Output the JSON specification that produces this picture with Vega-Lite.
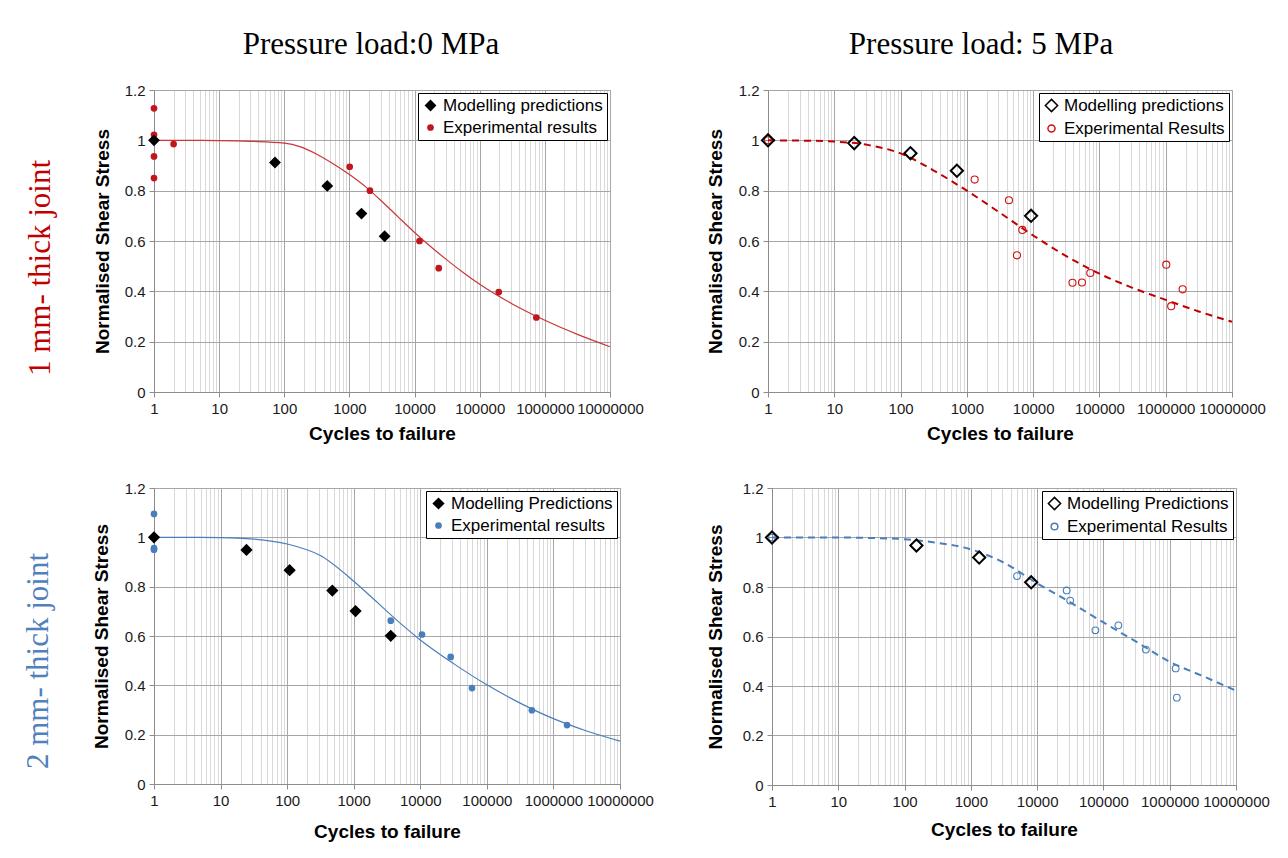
{
  "$schema": "https://vega.github.io/schema/vega-lite/v6.json",
  "background": "white",
  "padding": {"left": 22, "top": 28, "right": 4, "bottom": 4},
  "config": {
    "font": "Liberation Sans",
    "view": {"stroke": "#a6a6a6"},
    "axis": {
      "labelFont": "Liberation Sans", "labelFontSize": 15, "labelColor": "#1a1a1a",
      "titleFont": "Liberation Sans", "titleFontSize": 19, "titleFontWeight": "bold", "titleColor": "#000000",
      "domainColor": "#8c8c8c", "tickColor": "#8c8c8c", "gridColor": "#a6a6a6", "tickSize": 5, "labelPadding": 4
    },
    "legend": {
      "orient": "top-right", "offset": 3, "padding": 4, "fillColor": "white", "strokeColor": "#000000",
      "labelFont": "Liberation Sans", "labelFontSize": 17, "labelColor": "#000000", "rowPadding": 4, "labelLimit": 300
    },
    "title": {"font": "Liberation Serif", "fontSize": 31, "fontWeight": "normal", "color": "#000000"}
  },
  "datasets": {
    "curve1": [
      {"cycles": 1, "stress": 1.0}, {"cycles": 10, "stress": 0.999}, {"cycles": 31.6, "stress": 0.996},
      {"cycles": 100, "stress": 0.989}, {"cycles": 178, "stress": 0.974}, {"cycles": 316, "stress": 0.945},
      {"cycles": 562, "stress": 0.907}, {"cycles": 1000, "stress": 0.864}, {"cycles": 1778, "stress": 0.815},
      {"cycles": 3162, "stress": 0.757}, {"cycles": 5623, "stress": 0.695}, {"cycles": 10000, "stress": 0.634},
      {"cycles": 17783, "stress": 0.577}, {"cycles": 31623, "stress": 0.524}, {"cycles": 56234, "stress": 0.474},
      {"cycles": 100000, "stress": 0.428}, {"cycles": 316228, "stress": 0.35}, {"cycles": 1000000, "stress": 0.285},
      {"cycles": 3162278, "stress": 0.229}, {"cycles": 10000000, "stress": 0.18}
    ],
    "pts1": [
      {"cycles": 1, "stress": 1.127, "series": "Experimental results"},
      {"cycles": 1, "stress": 1.022, "series": "Experimental results"},
      {"cycles": 1, "stress": 0.936, "series": "Experimental results"},
      {"cycles": 1, "stress": 0.85, "series": "Experimental results"},
      {"cycles": 2, "stress": 0.985, "series": "Experimental results"},
      {"cycles": 1010, "stress": 0.895, "series": "Experimental results"},
      {"cycles": 2065, "stress": 0.8, "series": "Experimental results"},
      {"cycles": 11900, "stress": 0.6, "series": "Experimental results"},
      {"cycles": 23500, "stress": 0.492, "series": "Experimental results"},
      {"cycles": 196000, "stress": 0.397, "series": "Experimental results"},
      {"cycles": 740000, "stress": 0.296, "series": "Experimental results"},
      {"cycles": 1, "stress": 1.0, "series": "Modelling predictions"},
      {"cycles": 72, "stress": 0.912, "series": "Modelling predictions"},
      {"cycles": 457, "stress": 0.819, "series": "Modelling predictions"},
      {"cycles": 1530, "stress": 0.709, "series": "Modelling predictions"},
      {"cycles": 3470, "stress": 0.619, "series": "Modelling predictions"}
    ],
    "curve2": [
      {"cycles": 1, "stress": 1.0}, {"cycles": 3.16, "stress": 0.999}, {"cycles": 10, "stress": 0.995},
      {"cycles": 31.6, "stress": 0.982}, {"cycles": 100, "stress": 0.948}, {"cycles": 316, "stress": 0.88},
      {"cycles": 1000, "stress": 0.8}, {"cycles": 3162, "stress": 0.712}, {"cycles": 10000, "stress": 0.622},
      {"cycles": 31623, "stress": 0.54}, {"cycles": 100000, "stress": 0.47}, {"cycles": 316228, "stress": 0.414},
      {"cycles": 1000000, "stress": 0.366}, {"cycles": 3162278, "stress": 0.32}, {"cycles": 10000000, "stress": 0.279}
    ],
    "pts2": [
      {"cycles": 1, "stress": 1.0, "series": "Experimental Results"},
      {"cycles": 1310, "stress": 0.844, "series": "Experimental Results"},
      {"cycles": 4320, "stress": 0.762, "series": "Experimental Results"},
      {"cycles": 6860, "stress": 0.644, "series": "Experimental Results"},
      {"cycles": 5700, "stress": 0.543, "series": "Experimental Results"},
      {"cycles": 39200, "stress": 0.434, "series": "Experimental Results"},
      {"cycles": 54500, "stress": 0.435, "series": "Experimental Results"},
      {"cycles": 72800, "stress": 0.473, "series": "Experimental Results"},
      {"cycles": 1020000, "stress": 0.506, "series": "Experimental Results"},
      {"cycles": 1210000, "stress": 0.341, "series": "Experimental Results"},
      {"cycles": 1800000, "stress": 0.408, "series": "Experimental Results"},
      {"cycles": 1, "stress": 1.0, "series": "Modelling predictions"},
      {"cycles": 20, "stress": 0.989, "series": "Modelling predictions"},
      {"cycles": 141, "stress": 0.949, "series": "Modelling predictions"},
      {"cycles": 707, "stress": 0.879, "series": "Modelling predictions"},
      {"cycles": 9300, "stress": 0.7, "series": "Modelling predictions"}
    ],
    "curve3": [
      {"cycles": 1, "stress": 1.0}, {"cycles": 10, "stress": 0.999}, {"cycles": 31.6, "stress": 0.993},
      {"cycles": 100, "stress": 0.973}, {"cycles": 316, "stress": 0.926}, {"cycles": 1000, "stress": 0.822},
      {"cycles": 1778, "stress": 0.762}, {"cycles": 3162, "stress": 0.7}, {"cycles": 5623, "stress": 0.64},
      {"cycles": 10000, "stress": 0.584}, {"cycles": 31623, "stress": 0.488}, {"cycles": 100000, "stress": 0.402},
      {"cycles": 316228, "stress": 0.328}, {"cycles": 1000000, "stress": 0.265}, {"cycles": 3162278, "stress": 0.215},
      {"cycles": 10000000, "stress": 0.174}
    ],
    "pts3": [
      {"cycles": 1, "stress": 1.095, "series": "Experimental results"},
      {"cycles": 1, "stress": 0.956, "series": "Experimental results"},
      {"cycles": 1, "stress": 0.95, "series": "Experimental results"},
      {"cycles": 3600, "stress": 0.662, "series": "Experimental results"},
      {"cycles": 10600, "stress": 0.606, "series": "Experimental results"},
      {"cycles": 28600, "stress": 0.515, "series": "Experimental results"},
      {"cycles": 59800, "stress": 0.389, "series": "Experimental results"},
      {"cycles": 475000, "stress": 0.299, "series": "Experimental results"},
      {"cycles": 1600000, "stress": 0.239, "series": "Experimental results"},
      {"cycles": 1, "stress": 1.0, "series": "Modelling Predictions"},
      {"cycles": 24.5, "stress": 0.949, "series": "Modelling Predictions"},
      {"cycles": 109, "stress": 0.867, "series": "Modelling Predictions"},
      {"cycles": 477, "stress": 0.784, "series": "Modelling Predictions"},
      {"cycles": 1065, "stress": 0.701, "series": "Modelling Predictions"},
      {"cycles": 3600, "stress": 0.601, "series": "Modelling Predictions"}
    ],
    "curve4": [
      {"cycles": 1, "stress": 1.0}, {"cycles": 10, "stress": 1.0}, {"cycles": 31.6, "stress": 0.998},
      {"cycles": 100, "stress": 0.993}, {"cycles": 316, "stress": 0.978}, {"cycles": 1000, "stress": 0.952},
      {"cycles": 3162, "stress": 0.898}, {"cycles": 10000, "stress": 0.815}, {"cycles": 31623, "stress": 0.738},
      {"cycles": 100000, "stress": 0.657}, {"cycles": 316228, "stress": 0.578}, {"cycles": 1000000, "stress": 0.498},
      {"cycles": 3162278, "stress": 0.44}, {"cycles": 10000000, "stress": 0.381}
    ],
    "pts4": [
      {"cycles": 1, "stress": 1.0, "series": "Experimental Results"},
      {"cycles": 4970, "stress": 0.844, "series": "Experimental Results"},
      {"cycles": 27900, "stress": 0.786, "series": "Experimental Results"},
      {"cycles": 31500, "stress": 0.745, "series": "Experimental Results"},
      {"cycles": 75600, "stress": 0.625, "series": "Experimental Results"},
      {"cycles": 168000, "stress": 0.645, "series": "Experimental Results"},
      {"cycles": 437000, "stress": 0.547, "series": "Experimental Results"},
      {"cycles": 1230000, "stress": 0.471, "series": "Experimental Results"},
      {"cycles": 1280000, "stress": 0.353, "series": "Experimental Results"},
      {"cycles": 1, "stress": 1.0, "series": "Modelling Predictions"},
      {"cycles": 151, "stress": 0.968, "series": "Modelling Predictions"},
      {"cycles": 1336, "stress": 0.919, "series": "Modelling Predictions"},
      {"cycles": 8130, "stress": 0.819, "series": "Modelling Predictions"}
    ]
  },
  "resolve": {"scale": {"color": "independent", "shape": "independent", "size": "independent"}, "legend": {"color": "independent", "shape": "independent", "size": "independent"}},
  "spacing": 36,
  "vconcat": [
    {
      "title": {"text": "1 mm- thick joint", "orient": "left", "anchor": "middle", "color": "#c00000", "offset": 36, "dx": -32},
      "spacing": 61,
      "resolve": {"scale": {"color": "independent", "shape": "independent", "size": "independent"}, "legend": {"color": "independent", "shape": "independent", "size": "independent"}},
      "hconcat": [
        {
          "width": 456, "height": 302,
          "title": {"text": "Pressure load:0 MPa", "offset": 22, "dx": -11},
          "encoding": {
            "x": {"field": "cycles", "type": "quantitative", "scale": {"type": "log", "domain": [1, 10000000]},
              "axis": {"title": "Cycles to failure", "titlePadding": 8, "labelOverlap": false, "labelFlush": false,
                "values": [1,2,3,4,5,6,7,8,9,10,20,30,40,50,60,70,80,90,100,200,300,400,500,600,700,800,900,1000,2000,3000,4000,5000,6000,7000,8000,9000,10000,20000,30000,40000,50000,60000,70000,80000,90000,100000,200000,300000,400000,500000,600000,700000,800000,900000,1000000,2000000,3000000,4000000,5000000,6000000,7000000,8000000,9000000,10000000],
                "labelExpr": "indexof([1,10,100,1000,10000,100000,1000000,10000000], datum.value) >= 0 ? format(datum.value, 'd') : ''",
                "gridColor": {"condition": {"test": "indexof([1,10,100,1000,10000,100000,1000000,10000000], datum.value) >= 0", "value": "#a6a6a6"}, "value": "#d9d9d9"},
                "tickOpacity": {"condition": {"test": "indexof([1,10,100,1000,10000,100000,1000000,10000000], datum.value) >= 0", "value": 1}, "value": 0}}},
            "y": {"field": "stress", "type": "quantitative", "scale": {"domain": [0, 1.2]},
              "axis": {"title": "Normalised Shear Stress", "titlePadding": 12, "values": [0, 0.2, 0.4, 0.6, 0.8, 1, 1.2], "format": "~g"}}
          },
          "layer": [
            {"data": {"name": "curve1"}, "mark": {"type": "line", "color": "#c8373a", "strokeWidth": 1.2, "interpolate": "monotone"}},
            {"data": {"name": "pts1"}, "mark": {"type": "point", "filled": true, "opacity": 1},
              "encoding": {
                "shape": {"field": "series", "type": "nominal", "scale": {"domain": ["Modelling predictions", "Experimental results"], "range": ["diamond", "circle"]}, "legend": {"title": null}},
                "color": {"field": "series", "type": "nominal", "scale": {"domain": ["Modelling predictions", "Experimental results"], "range": ["#000000", "#c0171d"]}, "legend": {"title": null}},
                "size": {"field": "series", "type": "nominal", "scale": {"domain": ["Modelling predictions", "Experimental results"], "range": [140, 45]}, "legend": {"title": null}}
              }}
          ]
        },
        {
          "width": 464, "height": 302,
          "title": {"text": "Pressure load: 5 MPa", "offset": 22, "dx": -19},
          "encoding": {
            "x": {"field": "cycles", "type": "quantitative", "scale": {"type": "log", "domain": [1, 10000000]},
              "axis": {"title": "Cycles to failure", "titlePadding": 8, "labelOverlap": false, "labelFlush": false,
                "values": [1,2,3,4,5,6,7,8,9,10,20,30,40,50,60,70,80,90,100,200,300,400,500,600,700,800,900,1000,2000,3000,4000,5000,6000,7000,8000,9000,10000,20000,30000,40000,50000,60000,70000,80000,90000,100000,200000,300000,400000,500000,600000,700000,800000,900000,1000000,2000000,3000000,4000000,5000000,6000000,7000000,8000000,9000000,10000000],
                "labelExpr": "indexof([1,10,100,1000,10000,100000,1000000,10000000], datum.value) >= 0 ? format(datum.value, 'd') : ''",
                "gridColor": {"condition": {"test": "indexof([1,10,100,1000,10000,100000,1000000,10000000], datum.value) >= 0", "value": "#a6a6a6"}, "value": "#d9d9d9"},
                "tickOpacity": {"condition": {"test": "indexof([1,10,100,1000,10000,100000,1000000,10000000], datum.value) >= 0", "value": 1}, "value": 0}}},
            "y": {"field": "stress", "type": "quantitative", "scale": {"domain": [0, 1.2]},
              "axis": {"title": "Normalised Shear Stress", "titlePadding": 13, "values": [0, 0.2, 0.4, 0.6, 0.8, 1, 1.2], "format": "~g"}}
          },
          "layer": [
            {"data": {"name": "curve2"}, "mark": {"type": "line", "color": "#c00000", "strokeWidth": 2, "strokeDash": [7, 5], "interpolate": "monotone"}},
            {"data": {"name": "pts2"}, "transform": [{"filter": "datum.series == 'Experimental Results'"}],
              "mark": {"type": "point", "filled": false, "opacity": 1, "strokeWidth": 1.1},
              "encoding": {
                "shape": {"field": "series", "type": "nominal", "scale": {"domain": ["Modelling predictions", "Experimental Results"], "range": ["diamond", "circle"]}, "legend": {"title": null}},
                "color": {"field": "series", "type": "nominal", "scale": {"domain": ["Modelling predictions", "Experimental Results"], "range": ["#000000", "#d01010"]}, "legend": {"title": null}},
                "size": {"field": "series", "type": "nominal", "scale": {"domain": ["Modelling predictions", "Experimental Results"], "range": [150, 50]}, "legend": {"title": null}}
              }},
            {"data": {"name": "pts2"}, "transform": [{"filter": "datum.series == 'Modelling predictions'"}],
              "mark": {"type": "point", "filled": false, "opacity": 1, "strokeWidth": 2},
              "encoding": {
                "shape": {"field": "series", "type": "nominal", "legend": {"title": null}},
                "color": {"field": "series", "type": "nominal", "legend": {"title": null}},
                "size": {"field": "series", "type": "nominal", "legend": {"title": null}}
              }}
          ]
        }
      ]
    },
    {
      "title": {"text": "2 mm- thick joint", "orient": "left", "anchor": "middle", "color": "#4f81bd", "offset": 37},
      "spacing": 51,
      "resolve": {"scale": {"color": "independent", "shape": "independent", "size": "independent"}, "legend": {"color": "independent", "shape": "independent", "size": "independent"}},
      "hconcat": [
        {
          "width": 466, "height": 296,
          "encoding": {
            "x": {"field": "cycles", "type": "quantitative", "scale": {"type": "log", "domain": [1, 10000000]},
              "axis": {"title": "Cycles to failure", "titlePadding": 14, "labelOverlap": false, "labelFlush": false,
                "values": [1,2,3,4,5,6,7,8,9,10,20,30,40,50,60,70,80,90,100,200,300,400,500,600,700,800,900,1000,2000,3000,4000,5000,6000,7000,8000,9000,10000,20000,30000,40000,50000,60000,70000,80000,90000,100000,200000,300000,400000,500000,600000,700000,800000,900000,1000000,2000000,3000000,4000000,5000000,6000000,7000000,8000000,9000000,10000000],
                "labelExpr": "indexof([1,10,100,1000,10000,100000,1000000,10000000], datum.value) >= 0 ? format(datum.value, 'd') : ''",
                "gridColor": {"condition": {"test": "indexof([1,10,100,1000,10000,100000,1000000,10000000], datum.value) >= 0", "value": "#a6a6a6"}, "value": "#d9d9d9"},
                "tickOpacity": {"condition": {"test": "indexof([1,10,100,1000,10000,100000,1000000,10000000], datum.value) >= 0", "value": 1}, "value": 0}}},
            "y": {"field": "stress", "type": "quantitative", "scale": {"domain": [0, 1.2]},
              "axis": {"title": "Normalised Shear Stress", "titlePadding": 13, "values": [0, 0.2, 0.4, 0.6, 0.8, 1, 1.2], "format": "~g"}}
          },
          "layer": [
            {"data": {"name": "curve3"}, "mark": {"type": "line", "color": "#4a7ebb", "strokeWidth": 1.2, "interpolate": "monotone"}},
            {"data": {"name": "pts3"}, "mark": {"type": "point", "filled": true, "opacity": 1},
              "encoding": {
                "shape": {"field": "series", "type": "nominal", "scale": {"domain": ["Modelling Predictions", "Experimental results"], "range": ["diamond", "circle"]}, "legend": {"title": null}},
                "color": {"field": "series", "type": "nominal", "scale": {"domain": ["Modelling Predictions", "Experimental results"], "range": ["#000000", "#4a7ebb"]}, "legend": {"title": null}},
                "size": {"field": "series", "type": "nominal", "scale": {"domain": ["Modelling Predictions", "Experimental results"], "range": [150, 45]}, "legend": {"title": null}}
              }}
          ]
        },
        {
          "width": 464, "height": 297,
          "encoding": {
            "x": {"field": "cycles", "type": "quantitative", "scale": {"type": "log", "domain": [1, 10000000]},
              "axis": {"title": "Cycles to failure", "titlePadding": 11, "labelOverlap": false, "labelFlush": false,
                "values": [1,2,3,4,5,6,7,8,9,10,20,30,40,50,60,70,80,90,100,200,300,400,500,600,700,800,900,1000,2000,3000,4000,5000,6000,7000,8000,9000,10000,20000,30000,40000,50000,60000,70000,80000,90000,100000,200000,300000,400000,500000,600000,700000,800000,900000,1000000,2000000,3000000,4000000,5000000,6000000,7000000,8000000,9000000,10000000],
                "labelExpr": "indexof([1,10,100,1000,10000,100000,1000000,10000000], datum.value) >= 0 ? format(datum.value, 'd') : ''",
                "gridColor": {"condition": {"test": "indexof([1,10,100,1000,10000,100000,1000000,10000000], datum.value) >= 0", "value": "#a6a6a6"}, "value": "#d9d9d9"},
                "tickOpacity": {"condition": {"test": "indexof([1,10,100,1000,10000,100000,1000000,10000000], datum.value) >= 0", "value": 1}, "value": 0}}},
            "y": {"field": "stress", "type": "quantitative", "scale": {"domain": [0, 1.2]},
              "axis": {"title": "Normalised Shear Stress", "titlePadding": 17, "values": [0, 0.2, 0.4, 0.6, 0.8, 1, 1.2], "format": "~g"}}
          },
          "layer": [
            {"data": {"name": "curve4"}, "mark": {"type": "line", "color": "#4a7ebb", "strokeWidth": 2, "strokeDash": [7, 5], "interpolate": "monotone"}},
            {"data": {"name": "pts4"}, "transform": [{"filter": "datum.series == 'Experimental Results'"}],
              "mark": {"type": "point", "filled": false, "opacity": 1, "strokeWidth": 1.1},
              "encoding": {
                "shape": {"field": "series", "type": "nominal", "scale": {"domain": ["Modelling Predictions", "Experimental Results"], "range": ["diamond", "circle"]}, "legend": {"title": null}},
                "color": {"field": "series", "type": "nominal", "scale": {"domain": ["Modelling Predictions", "Experimental Results"], "range": ["#000000", "#4a7ebb"]}, "legend": {"title": null}},
                "size": {"field": "series", "type": "nominal", "scale": {"domain": ["Modelling Predictions", "Experimental Results"], "range": [150, 45]}, "legend": {"title": null}}
              }},
            {"data": {"name": "pts4"}, "transform": [{"filter": "datum.series == 'Modelling Predictions'"}],
              "mark": {"type": "point", "filled": false, "opacity": 1, "strokeWidth": 2},
              "encoding": {
                "shape": {"field": "series", "type": "nominal", "legend": {"title": null}},
                "color": {"field": "series", "type": "nominal", "legend": {"title": null}},
                "size": {"field": "series", "type": "nominal", "legend": {"title": null}}
              }}
          ]
        }
      ]
    }
  ]
}
